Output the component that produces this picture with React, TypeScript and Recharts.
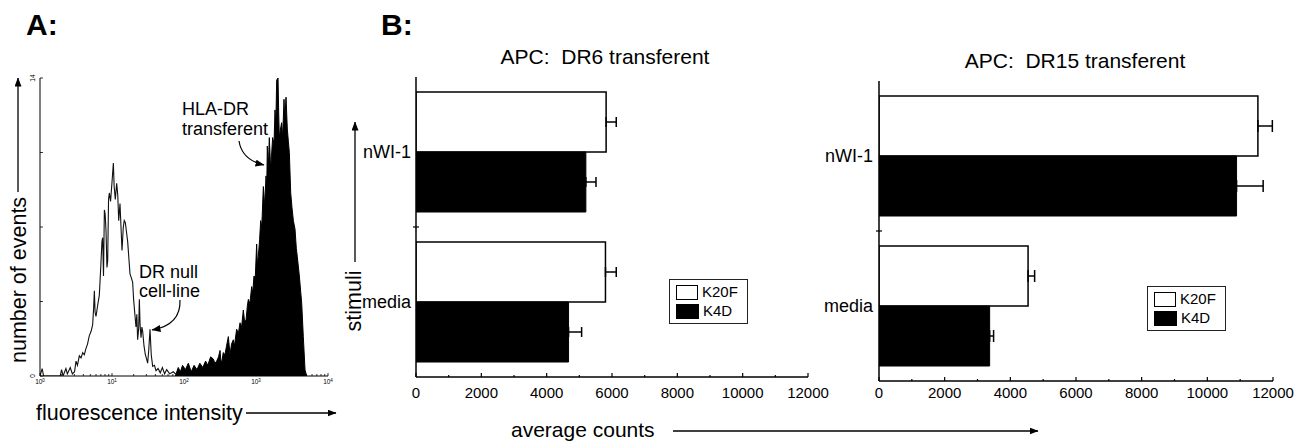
import React from 'react';
import {
  ComposedChart,
  Area,
  Line,
  XAxis,
  YAxis,
  BarChart,
  Bar,
  ErrorBar,
  Legend,
} from 'recharts';

const FONT = '"Liberation Sans", Arial, Helvetica, sans-serif';

// ---------- Panel A: flow-cytometry histograms (x = log10 fluorescence) ----------
const nullLog = [
  0.0, 0.03, 0.05, 0.28, 0.3, 0.32, 0.36, 0.38, 0.42, 0.45, 0.48, 0.5, 0.52, 0.546, 0.57, 0.593,
  0.615, 0.639, 0.66, 0.685, 0.71, 0.731, 0.745, 0.755, 0.765, 0.778, 0.8, 0.824, 0.845, 0.86,
  0.87, 0.882, 0.894, 0.905, 0.917, 0.93, 0.94, 0.952, 0.963, 0.98, 1.0, 1.019, 1.03, 1.046,
  1.065, 1.08, 1.093, 1.111, 1.125, 1.139, 1.157, 1.17, 1.185, 1.2, 1.218, 1.235, 1.25, 1.27,
  1.287, 1.3, 1.31, 1.333, 1.345, 1.356, 1.37, 1.38, 1.39, 1.403, 1.415, 1.426, 1.445, 1.463,
  1.48, 1.495, 1.51, 1.528, 1.545, 1.565, 1.59, 1.611, 1.64, 1.67, 1.7, 1.73, 1.76, 1.8, 1.85,
  1.9, 2.0,
];
const nullCount = [
  0, 0.35, 0, 0, 0.3, 0, 0.35, 0.1, 0.4, 0.1, 0.2, 0.7, 0.5, 0.95, 0.85, 1.1,
  1.0, 1.3, 1.5, 1.9, 2.1, 2.4, 3.2, 4.0, 3.0, 2.8, 3.3, 3.8, 5.2, 6.3,
  6.5, 4.7, 7.8, 7.6, 6.8, 5.1, 5.4, 8.3, 8.6, 8.2, 9.1, 10.0, 8.9, 8.3,
  9.05, 8.5, 7.3, 8.1, 7.0, 5.9, 7.0, 7.3, 7.2, 6.8, 6.3, 5.5, 4.8, 4.6,
  4.4, 3.6, 3.2, 2.3, 2.9, 1.7, 2.2, 3.6, 2.4, 1.8, 2.3, 2.1, 1.4, 1.0,
  0.8, 0.6, 1.2, 2.2, 1.0, 0.45, 0.5, 0.25, 0.35, 0.15, 0.4, 0.1, 0.3, 0.1, 0.2,
  0.05, 0,
];
const drLog = [
  1.88, 1.92, 1.95, 1.98, 2.02, 2.06, 2.1, 2.14, 2.18, 2.22, 2.26, 2.3, 2.33, 2.37, 2.407, 2.43,
  2.454, 2.48, 2.5, 2.51, 2.523, 2.545, 2.569, 2.59, 2.616, 2.639, 2.66, 2.685, 2.7, 2.731,
  2.755, 2.778, 2.8, 2.824, 2.84, 2.861, 2.88, 2.894, 2.915, 2.94, 2.955, 2.972, 2.99, 3.009,
  3.02, 3.032, 3.05, 3.065, 3.08, 3.102, 3.12, 3.139, 3.15, 3.157, 3.17, 3.185, 3.204, 3.215,
  3.231, 3.25, 3.264, 3.275, 3.287, 3.306, 3.315, 3.324, 3.34, 3.356, 3.37, 3.389, 3.4, 3.417,
  3.435, 3.45, 3.463, 3.482, 3.5, 3.519, 3.542, 3.56, 3.574, 3.602, 3.635, 3.657, 3.681, 3.704,
];
const drCount = [
  0, 0.4, 0.2, 0.5, 0.3, 0.6, 0.2, 0.5, 0.3, 0.6, 0.4, 0.7, 0.5, 0.9, 0.8, 0.6,
  0.7, 0.9, 1.2, 0.8, 0.6, 1.1, 1.0, 1.4, 1.85, 1.0, 1.5, 1.7, 1.4, 2.2,
  2.0, 2.5, 2.3, 3.1, 2.6, 2.6, 3.3, 3.6, 3.4, 4.2, 3.9, 4.7, 4.6, 6.2,
  5.2, 5.6, 6.4, 7.3, 7.0, 8.9, 8.0, 9.4, 9.0, 10.8, 9.7, 11.2, 9.7, 10.3,
  11.2, 10.9, 12.5, 11.7, 13.9, 14.0, 12.4, 11.2, 11.6, 11.9, 11.2, 13.0, 12.0, 13.1,
  11.6, 11.0, 10.5, 8.6, 7.9, 7.3, 6.9, 6.0, 5.6, 4.7, 3.4, 1.85, 0.28, 0,
];
const eventTicks = [0, 3.5, 7, 10.5, 14];
const eventTickLabels = ['0', '', '', '', '14'];
const decades = [0, 1, 2, 3, 4];
const minorMultipliers = [2, 3, 4, 5, 6, 7, 8, 9];

// ---------- Panel B: bar charts ----------
const stimuli = ['nWI-1', 'media'];
const seriesNames = ['K20F', 'K4D'];
const dr6K20F = [5820, 5800];
const dr6K20FErr = [310, 330];
const dr6K4D = [5200, 4670];
const dr6K4DErr = [310, 400];
const dr15K20F = [11540, 4540];
const dr15K20FErr = [440, 200];
const dr15K4D = [10890, 3370];
const dr15K4DErr = [810, 120];
const countTicks = [0, 1000, 2000, 3000, 4000, 5000, 6000, 7000, 8000, 9000, 10000, 11000, 12000];
const countLabelStep = 2000;

const histData = [
  ...nullLog.map((x, i) => ({ x, nul: nullCount[i] })),
  ...drLog.map((x, i) => ({ x, dr: drCount[i] })),
].sort((a, b) => a.x - b.x);

const logTicks: number[] = [];
decades.forEach((d) => {
  logTicks.push(d);
  if (d < decades[decades.length - 1]) minorMultipliers.forEach((m) => logTicks.push(d + Math.log10(m)));
});

const makeBarData = (k20f: number[], k20fErr: number[], k4d: number[], k4dErr: number[]) =>
  stimuli.map((s, i) => ({
    stim: s,
    k20f: k20f[i],
    k20fErr: [0, k20fErr[i]],
    k4d: k4d[i],
    k4dErr: [0, k4dErr[i]],
  }));
const dr6Data = makeBarData(dr6K20F, dr6K20FErr, dr6K4D, dr6K4DErr);
const dr15Data = makeBarData(dr15K20F, dr15K20FErr, dr15K4D, dr15K4DErr);

// ---------- tick renderers ----------
const LogTick = (props: any) => {
  const { x, y, payload } = props;
  const v = payload.value;
  const major = Math.abs(v - Math.round(v)) < 1e-6;
  return (
    <g>
      <line x1={x} x2={x} y1={y} y2={y - (major ? 3 : 2)} stroke="#000" strokeWidth={0.8} />
      {major && (
        <text x={x} y={y + 8} textAnchor="middle" fontSize={6.5} fontFamily={FONT} fill="#000">
          10
          <tspan dy={-2.5} fontSize={4.5}>
            {Math.round(v)}
          </tspan>
        </text>
      )}
    </g>
  );
};

const EventTick = (props: any) => {
  const { x, y, payload } = props;
  const label = eventTickLabels[eventTicks.indexOf(payload.value)] || '';
  return (
    <g>
      <line x1={x} x2={x + 3} y1={y} y2={y} stroke="#000" strokeWidth={0.8} />
      {label && (
        <text
          x={x - 5}
          y={y}
          transform={`rotate(-90 ${x - 5} ${y})`}
          textAnchor="middle"
          fontSize={6.5}
          fontFamily={FONT}
          fill="#000"
        >
          {label}
        </text>
      )}
    </g>
  );
};

const makeCountTick = (labelOffset: number) => (props: any) => {
  const { x, y, payload } = props;
  const v = payload.value;
  const major = v % countLabelStep === 0;
  return (
    <g>
      <line x1={x} x2={x} y1={y} y2={y - (major ? 4 : 2)} stroke="#000" strokeWidth={1.2} />
      {major && (
        <text x={x} y={y + labelOffset} textAnchor="middle" fontSize={15} fontFamily={FONT} fill="#000">
          {v}
        </text>
      )}
    </g>
  );
};

const makeStimTick = (band: number, gap: number) => (props: any) => {
  const { x, y, payload, index } = props;
  return (
    <g>
      <text x={x - gap} y={y} dy={6} textAnchor="end" fontSize={18} fontFamily={FONT} fill="#000">
        {payload.value}
      </text>
      {index === 0 && (
        <line x1={x - 3} x2={x + 3} y1={y + band / 2} y2={y + band / 2} stroke="#000" strokeWidth={1.2} />
      )}
    </g>
  );
};

const LegendBox = () => (
  <div
    style={{
      width: 79,
      height: 45,
      boxSizing: 'border-box',
      border: '1px solid #222',
      background: '#fff',
      fontFamily: FONT,
      fontSize: 15,
      position: 'relative',
      color: '#000',
    }}
  >
    <div
      style={{
        position: 'absolute',
        left: 6,
        top: 5,
        width: 22,
        height: 15,
        boxSizing: 'border-box',
        border: '1.5px solid #000',
        background: '#fff',
      }}
    />
    <span style={{ position: 'absolute', left: 32, top: 4, lineHeight: '16px' }}>{seriesNames[0]}</span>
    <div style={{ position: 'absolute', left: 6, top: 24, width: 23, height: 15, background: '#000' }} />
    <span style={{ position: 'absolute', left: 33, top: 23, lineHeight: '16px' }}>{seriesNames[1]}</span>
  </div>
);

type BarPanelProps = {
  data: any[];
  width: number;
  margin: { top: number; right: number; bottom: number; left: number };
  yWidth: number;
  labelGap: number;
  tickLabelOffset: number;
  legendPos: { left: number; top: number };
  capWidth: number;
};

const BAR_H = 441;
const X_AXIS_H = 30;

const BarPanel = ({ data, width, margin, yWidth, labelGap, tickLabelOffset, legendPos, capWidth }: BarPanelProps) => {
  const plotH = BAR_H - margin.top - margin.bottom - X_AXIS_H;
  const band = plotH / stimuli.length;
  return (
    <BarChart
      width={width}
      height={BAR_H}
      data={data}
      layout="vertical"
      margin={margin}
      barCategoryGap="10%"
      barGap={0}
    >
      <XAxis
        type="number"
        domain={[0, 12000]}
        ticks={countTicks}
        interval={0}
        tick={makeCountTick(tickLabelOffset)}
        tickLine={false}
        tickSize={0}
        tickMargin={0}
        height={X_AXIS_H}
        axisLine={{ stroke: '#000', strokeWidth: 1.5 }}
        allowDataOverflow
      />
      <XAxis
        xAxisId="top"
        orientation="top"
        type="number"
        domain={[0, 12000]}
        tick={false}
        tickLine={false}
        height={0}
        axisLine={{ stroke: '#000', strokeWidth: 1.2 }}
      />
      <YAxis
        type="category"
        dataKey="stim"
        width={yWidth}
        interval={0}
        tick={makeStimTick(band, labelGap)}
        tickLine={false}
        tickSize={0}
        tickMargin={0}
        axisLine={{ stroke: '#000', strokeWidth: 1.5 }}
      />
      <YAxis
        yAxisId="right"
        orientation="right"
        type="number"
        domain={[0, 1]}
        tick={false}
        tickLine={false}
        width={0}
        axisLine={{ stroke: '#000', strokeWidth: 1.2 }}
      />
      <Bar dataKey="k20f" name={seriesNames[0]} fill="#fff" stroke="#000" strokeWidth={1.5} isAnimationActive={false}>
        <ErrorBar dataKey="k20fErr" direction="x" width={capWidth} stroke="#000" strokeWidth={1.5} />
      </Bar>
      <Bar dataKey="k4d" name={seriesNames[1]} fill="#000" stroke="#000" strokeWidth={1} isAnimationActive={false}>
        <ErrorBar dataKey="k4dErr" direction="x" width={capWidth} stroke="#000" strokeWidth={1.5} />
      </Bar>
      <Legend
        layout="vertical"
        align="center"
        verticalAlign="middle"
        wrapperStyle={{ left: legendPos.left, top: legendPos.top, width: 79, height: 45 }}
        content={() => <LegendBox />}
      />
    </BarChart>
  );
};

export default function App() {
  return (
    <div
      style={{
        position: 'absolute',
        left: 0,
        top: 0,
        width: 1313,
        height: 441,
        background: '#fff',
        overflow: 'hidden',
        fontFamily: FONT,
      }}
    >
      {/* Panel A */}
      <div style={{ position: 'absolute', left: 0, top: 0 }}>
        <ComposedChart width={345} height={441} data={histData} margin={{ top: 78, right: 17, bottom: 45, left: 30 }}>
          <XAxis
            type="number"
            dataKey="x"
            domain={[0, 4]}
            ticks={logTicks}
            interval={0}
            tick={LogTick}
            tickLine={false}
            tickSize={0}
            tickMargin={0}
            height={20}
            axisLine={{ stroke: '#000', strokeWidth: 1 }}
            allowDataOverflow
          />
          <YAxis
            type="number"
            domain={[0, 14]}
            ticks={eventTicks}
            interval={0}
            tick={EventTick}
            tickLine={false}
            tickSize={0}
            tickMargin={0}
            width={10}
            axisLine={{ stroke: '#000', strokeWidth: 1 }}
            allowDataOverflow
          />
          <Area
            dataKey="dr"
            type="linear"
            stroke="#000"
            strokeWidth={1}
            fill="#000"
            fillOpacity={1}
            connectNulls
            dot={false}
            activeDot={false}
            isAnimationActive={false}
          />
          <Line
            dataKey="nul"
            type="linear"
            stroke="#111"
            strokeWidth={1.1}
            connectNulls
            dot={false}
            activeDot={false}
            isAnimationActive={false}
          />
        </ComposedChart>
      </div>

      {/* Panel B left: DR6 */}
      <div style={{ position: 'absolute', left: 340, top: 0 }}>
        <BarPanel
          data={dr6Data}
          width={505}
          margin={{ top: 77, right: 37, bottom: 34, left: 16 }}
          yWidth={60}
          labelGap={5}
          tickLabelOffset={21}
          legendPos={{ left: 329, top: 279 }}
          capWidth={5}
        />
      </div>

      {/* Panel B right: DR15 */}
      <div style={{ position: 'absolute', left: 820, top: 0 }}>
        <BarPanel
          data={dr15Data}
          width={493}
          margin={{ top: 81, right: 40, bottom: 30, left: 3 }}
          yWidth={56}
          labelGap={6}
          tickLabelOffset={17}
          legendPos={{ left: 327, top: 286 }}
          capWidth={6}
        />
      </div>

      {/* Labels & annotations overlay */}
      <svg
        width={1313}
        height={441}
        style={{ position: 'absolute', left: 0, top: 0, pointerEvents: 'none' }}
        fontFamily={FONT}
      >
        <defs>
          <marker id="ah" markerWidth="9" markerHeight="7" refX="8.5" refY="3.5" orient="auto" markerUnits="userSpaceOnUse">
            <path d="M0,0 L9,3.5 L0,7 z" fill="#000" />
          </marker>
        </defs>

        <text x={26} y={35} fontSize={30} fontWeight="bold" fill="#000">A:</text>
        <text x={381} y={35} fontSize={30} fontWeight="bold" fill="#000">B:</text>

        {/* Panel A axis labels */}
        <text x={25.5} y={363} transform="rotate(-90 25.5 363)" fontSize={21.5} fill="#000">number of events</text>
        <line x1={18} y1={192} x2={18} y2={78} stroke="#000" strokeWidth={1.3} markerEnd="url(#ah)" />
        <text x={36} y={420} fontSize={21.5} fill="#000">fluorescence intensity</text>
        <line x1={246} y1={413} x2={336} y2={413} stroke="#000" strokeWidth={1.3} markerEnd="url(#ah)" />

        {/* Panel A annotations */}
        <text x={182} y={115} fontSize={18} fill="#000">HLA-DR</text>
        <text x={182} y={135} fontSize={18} fill="#000">transferent</text>
        <path d="M 239 141 Q 242 160 264 165" fill="none" stroke="#000" strokeWidth={1.2} markerEnd="url(#ah)" />
        <text x={139} y={278} fontSize={18} fill="#000">DR null</text>
        <text x={139} y={297} fontSize={18} fill="#000">cell-line</text>
        <path d="M 180 300 Q 181 325 152 330" fill="none" stroke="#000" strokeWidth={1.2} markerEnd="url(#ah)" />

        {/* Panel B titles & labels */}
        <text x={605} y={64} textAnchor="middle" fontSize={21} fill="#000" style={{ whiteSpace: 'pre' }}>
          {'APC:  DR6 transferent'}
        </text>
        <text x={1075} y={68} textAnchor="middle" fontSize={21} fill="#000" style={{ whiteSpace: 'pre' }}>
          {'APC:  DR15 transferent'}
        </text>
        <text x={361} y={301} transform="rotate(-90 361 301)" textAnchor="middle" fontSize={21.5} fill="#000">stimuli</text>
        <line x1={355} y1={262} x2={355} y2={122} stroke="#000" strokeWidth={1.3} markerEnd="url(#ah)" />
        <text x={511} y={437} fontSize={21} fill="#000">average counts</text>
        <line x1={673} y1={431} x2={1038} y2={431} stroke="#000" strokeWidth={1.3} markerEnd="url(#ah)" />
      </svg>
    </div>
  );
}
